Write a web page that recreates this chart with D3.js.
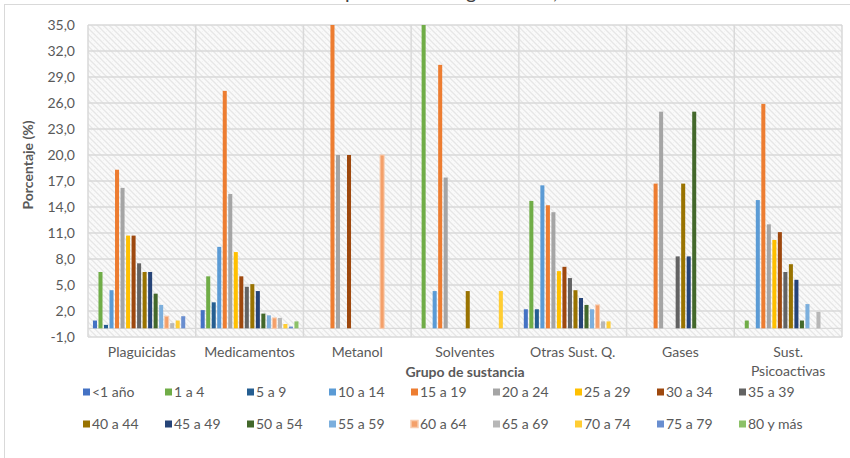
<!DOCTYPE html>
<meta charset="utf-8">
<style>
  body { margin: 0; background: #fff; }
  text { font-family: Lato, "Liberation Sans", sans-serif; }
</style>
<svg width="850" height="458"></svg>
<script src="https://cdn.jsdelivr.net/npm/d3@7"></script>
<script>
// grupos de sustancia (eje x)
var categories = ["Plaguicidas", "Medicamentos", "Metanol", "Solventes", "Otras Sust. Q.", "Gases", "Sust. Psicoactivas"];
// grupos de edad (series)
var ageGroups = ["<1 año", "1 a 4", "5 a 9", "10 a 14", "15 a 19", "20 a 24", "25 a 29", "30 a 34", "35 a 39",
                 "40 a 44", "45 a 49", "50 a 54", "55 a 59", "60 a 64", "65 a 69", "70 a 74", "75 a 79", "80 y más"];
var colors = ["#4472C4", "#70AD47", "#255E91", "#5B9BD5", "#ED7D31", "#A5A5A5", "#FFC000", "#9E480E", "#636363",
              "#997300", "#264478", "#43682B", "#7CAFDD", "#F4A06A", "#B7B7B7", "#FFCD33", "#698ED0", "#8CC168"];

// porcentajes por grupo de sustancia, en el orden de ageGroups
var plaguicidas  = [0.9, 6.5, 0.4, 4.4, 18.3, 16.2, 10.7, 10.7, 7.5, 6.5, 6.5, 4.0, 2.7, 1.4, 0.6, 0.9, 1.4, 0];
var medicamentos = [2.1, 6.0, 3.0, 9.4, 27.4, 15.5, 8.8, 6.0, 4.8, 5.1, 4.3, 1.7, 1.5, 1.2, 1.2, 0.5, 0.2, 0.8];
var metanol      = [0, 0, 0, 0, 40.0, 20.0, 0, 20.0, 0, 0, 0, 0, 0, 20.0, 0, 0, 0, 0];
var solventes    = [0, 39.1, 0, 4.3, 30.4, 17.4, 0, 0, 0, 4.3, 0, 0, 0, 0, 0, 4.3, 0, 0];
var otras        = [2.2, 14.7, 2.2, 16.5, 14.2, 13.4, 6.6, 7.1, 5.8, 4.4, 3.5, 2.7, 2.2, 2.7, 0.8, 0.8, 0, 0];
var gases        = [0, 0, 0, 0, 16.7, 25.0, 0, 0, 8.3, 16.7, 8.3, 25.0, 0, 0, 0, 0, 0, 0];
var psicoactivas = [0, 0.9, 0, 14.8, 25.9, 12.0, 10.2, 11.1, 6.5, 7.4, 5.6, 0.9, 2.8, 0, 1.9, 0, 0, 0];
var yTicks = [-1, 2, 5, 8, 11, 14, 17, 20, 23, 26, 29, 32, 35];

var table = [plaguicidas, medicamentos, metanol, solventes, otras, gases, psicoactivas];

var svg = d3.select("svg");
var pLeft = 88, pRight = 842, pTop = 25, pBottom = 337;
var grid = "#d9d9d9", txt = "#595959";

var x0 = d3.scaleBand().domain(categories).range([pLeft, pRight]).padding(0);
var x1 = d3.scaleBand().domain(d3.range(ageGroups.length)).range([0, x0.bandwidth()])
    .paddingInner(0.27).paddingOuter(0.9);
var y = d3.scaleLinear().domain([-1, 35]).range([pBottom, pTop]);
var fmt = d3.formatLocale({decimal: ",", thousands: ".", grouping: [3], currency: ["", ""], minus: "-"}).format(".1f");

// trama del fondo
var defs = svg.append("defs");
var pat = defs.append("pattern").attr("id", "hatch").attr("patternUnits", "userSpaceOnUse")
    .attr("width", 6).attr("height", 6);
pat.append("rect").attr("width", 6).attr("height", 6).attr("fill", "#fafafa");
pat.append("path").attr("d", "M0,0L6,6M-1,5L1,7M5,-1L7,1").attr("stroke", "#e6e6e6").attr("stroke-width", 1.3);
pat.append("path").attr("d", "M0,6L6,0").attr("stroke", "#f1f1f1").attr("stroke-width", 0.8);
defs.append("clipPath").attr("id", "plot").append("rect")
    .attr("x", pLeft).attr("y", pTop).attr("width", pRight - pLeft).attr("height", pBottom - pTop);

// borde del gráfico
svg.append("rect").attr("x", 4.5).attr("y", 4.5).attr("width", 850).attr("height", 470)
    .attr("fill", "#fff").attr("stroke", grid);

// título (cortado arriba, sólo se ven los trazos descendentes)
var title = svg.append("text").attr("y", -1.5).attr("font-size", 20).attr("fill", "#404040")
    .text("Casos notificados por edades según causa, Colombia");
var px = title.node().getStartPositionOfChar(title.text().indexOf("p")).x;
title.attr("x", 345 - px);

svg.append("rect").attr("x", pLeft).attr("y", pTop).attr("width", pRight - pLeft).attr("height", pBottom - pTop)
    .attr("fill", "url(#hatch)");

// líneas de división
svg.append("g").selectAll("line").data(yTicks).join("line")
    .attr("x1", pLeft).attr("x2", pRight).attr("y1", d => y(d)).attr("y2", d => y(d))
    .attr("stroke", grid).attr("stroke-width", 1.5);
svg.append("g").selectAll("line").data(categories.concat([null])).join("line")
    .attr("x1", (d, i) => i < categories.length ? x0(d) : pRight)
    .attr("x2", (d, i) => i < categories.length ? x0(d) : pRight)
    .attr("y1", pTop).attr("y2", pBottom).attr("stroke", grid).attr("stroke-width", 1.5);
svg.append("line").attr("x1", pLeft).attr("x2", pRight).attr("y1", y(0)).attr("y2", y(0))
    .attr("stroke", grid).attr("stroke-width", 1.2);

// barras
var bars = svg.append("g").attr("clip-path", "url(#plot)");
table.forEach(function(vals, ci) {
  bars.append("g").attr("transform", "translate(" + x0(categories[ci]) + ",0)")
    .selectAll("rect").data(vals.map((v, i) => ({v: v, i: i})).filter(d => d.v > 0)).join("rect")
    .attr("x", d => x1(d.i)).attr("width", x1.bandwidth())
    .attr("y", d => y(d.v)).attr("height", d => y(0) - y(d.v))
    .attr("fill", d => colors[d.i])
    .attr("stroke", d => d.i === 13 ? "#f8cbad" : null).attr("stroke-width", 1);
});

// eje y
svg.append("g").selectAll("text").data(yTicks).join("text")
    .attr("x", 75).attr("y", d => y(d)).attr("dy", "0.35em").attr("text-anchor", "end")
    .attr("font-size", 14).attr("fill", txt).text(d => fmt(d));
svg.append("text").attr("transform", "translate(28,165) rotate(-90)").attr("text-anchor", "middle")
    .attr("dy", "0.35em").attr("font-size", 14).attr("font-weight", "bold").attr("fill", txt)
    .text("Porcentaje (%)");

// eje x
var cats = svg.append("g").selectAll("text").data(categories).join("text")
    .attr("x", d => x0(d) + x0.bandwidth() / 2).attr("y", 357).attr("text-anchor", "middle")
    .attr("font-size", 14).attr("fill", txt);
cats.each(function(d) {
  var parts = d === "Sust. Psicoactivas" ? ["Sust.", "Psicoactivas"] : [d];
  d3.select(this).selectAll("tspan").data(parts).join("tspan")
    .attr("x", x0(d) + x0.bandwidth() / 2).attr("dy", (p, i) => i ? 19 : 0).text(p => p);
});
svg.append("text").attr("x", (pLeft + pRight) / 2).attr("y", 377).attr("text-anchor", "middle")
    .attr("font-size", 14).attr("font-weight", "bold").attr("fill", txt).text("Grupo de sustancia");

// leyenda
var leg = svg.append("g").selectAll("g").data(ageGroups).join("g")
    .attr("transform", (d, i) => "translate(" + (83 + 82 * (i % 9)) + "," + (i < 9 ? 392 : 424) + ")");
leg.append("rect").attr("x", 0).attr("y", -3.5).attr("width", 7).attr("height", 7)
    .attr("fill", (d, i) => colors[i])
    .attr("stroke", (d, i) => i === 13 ? "#f8cbad" : null).attr("stroke-width", 1.5);
leg.append("text").attr("x", 9).attr("dy", "0.35em").attr("font-size", 14).attr("fill", txt).text(d => d);
</script>
